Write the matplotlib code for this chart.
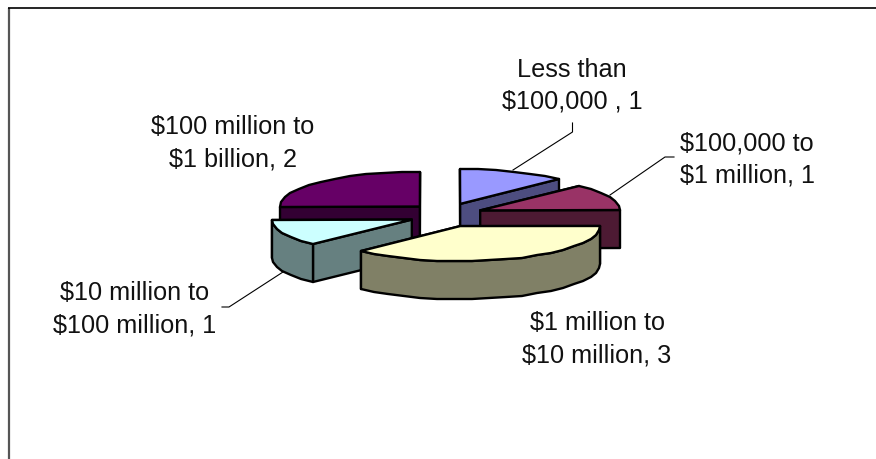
import numpy as np
import matplotlib
matplotlib.use("Agg")
import matplotlib.pyplot as plt
from matplotlib.patches import Polygon

categories = ["Less than\n$100,000 , 1", "$100,000 to\n$1 million, 1", "$1 million to\n$10 million, 3",
              "$10 million to\n$100 million, 1", "$100 million to\n$1 billion, 2"]
values = [1, 1, 3, 1, 2]
top_colors = ["#9999FF", "#993366", "#FFFFCC", "#CCFFFF", "#660066"]
side_colors = ["#4D4D80", "#4D1A33", "#808066", "#668080", "#330033"]
# centre x and last-line baseline of each label
label_pos = [(572, 109), (747, 183), (597, 362), (135, 332), (233, 166)]
draw_order = [4, 0, 1, 3, 2]

# pie geometry in pixels
cx, cy = 446, 215
rx, ry = 140, 35
explode_x, explode_y = 37, 12
depth = 38

fig = plt.figure(figsize=(8.76, 4.59), dpi=100)
ax = fig.add_axes([0, 0, 1, 1])
ax.set_xlim(0, 876)
ax.set_ylim(459, 0)
ax.axis("off")

# frame, open on the right and bottom
ax.plot([8.5, 8.5], [459, 7.5], color="#555555", lw=1.6, solid_capstyle="butt")
ax.plot([8, 876], [7.5, 7.5], color="black", lw=1.2, solid_capstyle="butt")


def arc(hub, a0, a1):
    # coarse whole-pixel outline, the curve is visibly faceted
    n = max(int(abs(a1 - a0) / 7), 1) + 1
    t = np.radians(np.linspace(a0, a1, n))
    return np.round(np.column_stack([hub[0] + rx * np.sin(t), hub[1] - ry * np.cos(t)]))


def face(pts, color, z):
    ax.add_patch(Polygon(pts, closed=True, facecolor=color, edgecolor="black",
                         lw=1.7, joinstyle="round", zorder=z))


edges = np.cumsum([0] + values) / sum(values) * 360
down = np.array([0, depth])
for n, i in enumerate(draw_order):
    a0, a1 = edges[i], edges[i + 1]
    mid = np.radians((a0 + a1) / 2)
    hub = np.array([cx + explode_x * np.sin(mid), cy - explode_y * np.cos(mid)])
    z = 2 + n
    # cut faces, the one further back first
    ends = sorted([arc(hub, a, a)[0] for a in (a0, a1)], key=lambda p: p[1])
    for p in ends:
        face([hub, p, p + down, hub + down], side_colors[i], z)
    # outer rim, only the part facing the viewer
    r0, r1 = max(a0, 90), min(a1, 270)
    if r1 > r0:
        rim = arc(hub, r0, r1)
        face(np.vstack([rim, (rim + down)[::-1]]), side_colors[i], z)
    face(np.vstack([[hub], arc(hub, a0, a1)]), top_colors[i], z)

# leader lines
ax.plot([572.5, 572.5, 513], [123, 132, 170], color="black", lw=0.8, zorder=1)
ax.plot([674, 665, 610], [157, 157, 195], color="black", lw=0.8, zorder=1)
ax.plot([222, 229, 283], [307, 307, 272], color="black", lw=0.8, zorder=1)

for lab, (x, y) in zip(categories, label_pos):
    ax.text(x, y, lab, ha="center", va="baseline", fontsize=18.2,
            family="Liberation Sans", color="#111111", linespacing=1.43)

fig.savefig("out.png", dpi=100)
